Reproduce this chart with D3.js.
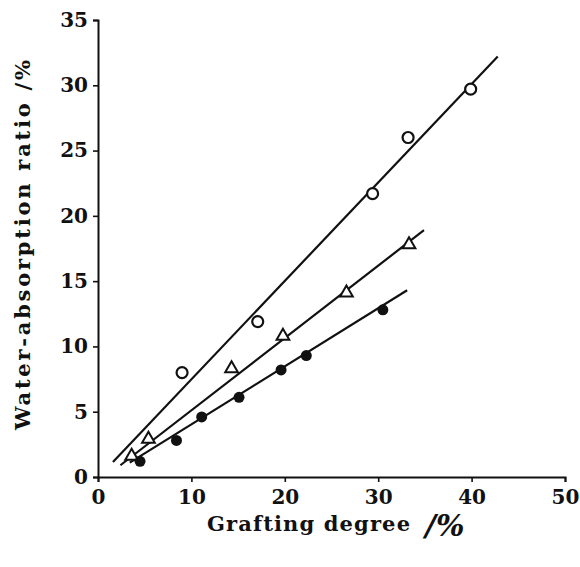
<!DOCTYPE html>
<html>
<head>
<meta charset="utf-8">
<script src="https://cdn.jsdelivr.net/npm/d3@7"></script>
<style>
  body { margin: 0; background: #fff; }
  text { font-family: "DejaVu Serif", "Liberation Serif", serif; fill: #111; }
</style>
</head>
<body>
<svg id="chart" width="580" height="567"></svg>
<script>
// grafting degree (%) vs water-absorption ratio (%)
const openCircleX = [9.0, 17.1, 29.4, 33.2, 39.9];
const openCircleY = [8.0, 11.9, 21.7, 26.0, 29.7];
const triangleX = [3.6, 5.4, 14.3, 19.8, 26.6, 33.3];
const triangleY = [1.6, 2.9, 8.3, 10.8, 14.1, 17.8];
const filledX = [4.5, 8.4, 11.1, 15.1, 19.6, 22.3, 30.5];
const filledY = [1.2, 2.8, 4.6, 6.1, 8.2, 9.3, 12.8];

// fitted straight lines: [x0, y0, x1, y1]
const circleFit = [1.6, 1.15, 42.8, 32.2];
const triangleFit = [2.4, 0.9, 34.9, 18.9];
const filledFit = [3.4, 1.1, 33.1, 14.3];

const xTicks = [0, 10, 20, 30, 40, 50];
const yTicks = [0, 5, 10, 15, 20, 25, 30, 35];

const svg = d3.select('#chart');

const x = d3.scaleLinear().domain([0, 50]).range([98, 565]);
const y = d3.scaleLinear().domain([0, 35]).range([477, 20]);

// axes
const xAxis = svg.append('g')
  .attr('transform', `translate(0,${y(0)})`)
  .call(d3.axisBottom(x).tickValues(xTicks).tickSize(5).tickPadding(8).tickFormat(d3.format('d')));
const yAxis = svg.append('g')
  .attr('transform', `translate(${x(0)},0)`)
  .call(d3.axisLeft(y).tickValues(yTicks).tickSize(5).tickPadding(5).tickFormat(d3.format('d')));

[xAxis, yAxis].forEach(a => {
  a.select('.domain').attr('stroke', '#111').attr('stroke-width', 2);
  a.selectAll('.tick line').attr('stroke', '#111').attr('stroke-width', 1.6);
  a.selectAll('text')
    .attr('font-size', 20)
    .attr('font-weight', 'bold')
    .attr('font-family', '"DejaVu Serif", serif')
    .attr('fill', '#111');
});

// fit lines
const fits = [circleFit, triangleFit, filledFit];
svg.append('g').selectAll('line')
  .data(fits)
  .enter().append('line')
  .attr('x1', d => x(d[0]))
  .attr('y1', d => y(d[1]))
  .attr('x2', d => x(d[2]))
  .attr('y2', d => y(d[3]))
  .attr('stroke', '#111')
  .attr('stroke-width', 2.2);

// open circles
svg.append('g').selectAll('circle')
  .data(openCircleX.map((v, i) => [v, openCircleY[i]]))
  .enter().append('circle')
  .attr('cx', d => x(d[0]))
  .attr('cy', d => y(d[1]))
  .attr('r', 5.5)
  .attr('fill', '#fff')
  .attr('stroke', '#111')
  .attr('stroke-width', 2.2);

// open triangles
const tri = d3.symbol().type(d3.symbolTriangle).size(70);
svg.append('g').selectAll('path')
  .data(triangleX.map((v, i) => [v, triangleY[i]]))
  .enter().append('path')
  .attr('d', tri)
  .attr('transform', d => `translate(${x(d[0])},${y(d[1])})`)
  .attr('fill', '#fff')
  .attr('stroke', '#111')
  .attr('stroke-width', 2);

// filled circles
svg.append('g').selectAll('circle')
  .data(filledX.map((v, i) => [v, filledY[i]]))
  .enter().append('circle')
  .attr('cx', d => x(d[0]))
  .attr('cy', d => y(d[1]))
  .attr('r', 5.5)
  .attr('fill', '#111');

// axis titles
svg.append('text')
  .attr('x', 207)
  .attr('y', 531)
  .attr('font-size', 21)
  .attr('font-weight', 'bold')
  .attr('textLength', 203)
  .attr('lengthAdjust', 'spacing')
  .text('Grafting degree');
svg.append('text')
  .attr('x', 425)
  .attr('y', 536)
  .attr('font-size', 30)
  .attr('font-style', 'italic')
  .attr('font-weight', 'bold')
  .text('/%');

svg.append('text')
  .attr('transform', 'translate(30,430) rotate(-90)')
  .attr('font-size', 21)
  .attr('font-weight', 'bold')
  .attr('textLength', 370)
  .attr('lengthAdjust', 'spacing')
  .text('Water-absorption ratio /%');
</script>
</body>
</html>
